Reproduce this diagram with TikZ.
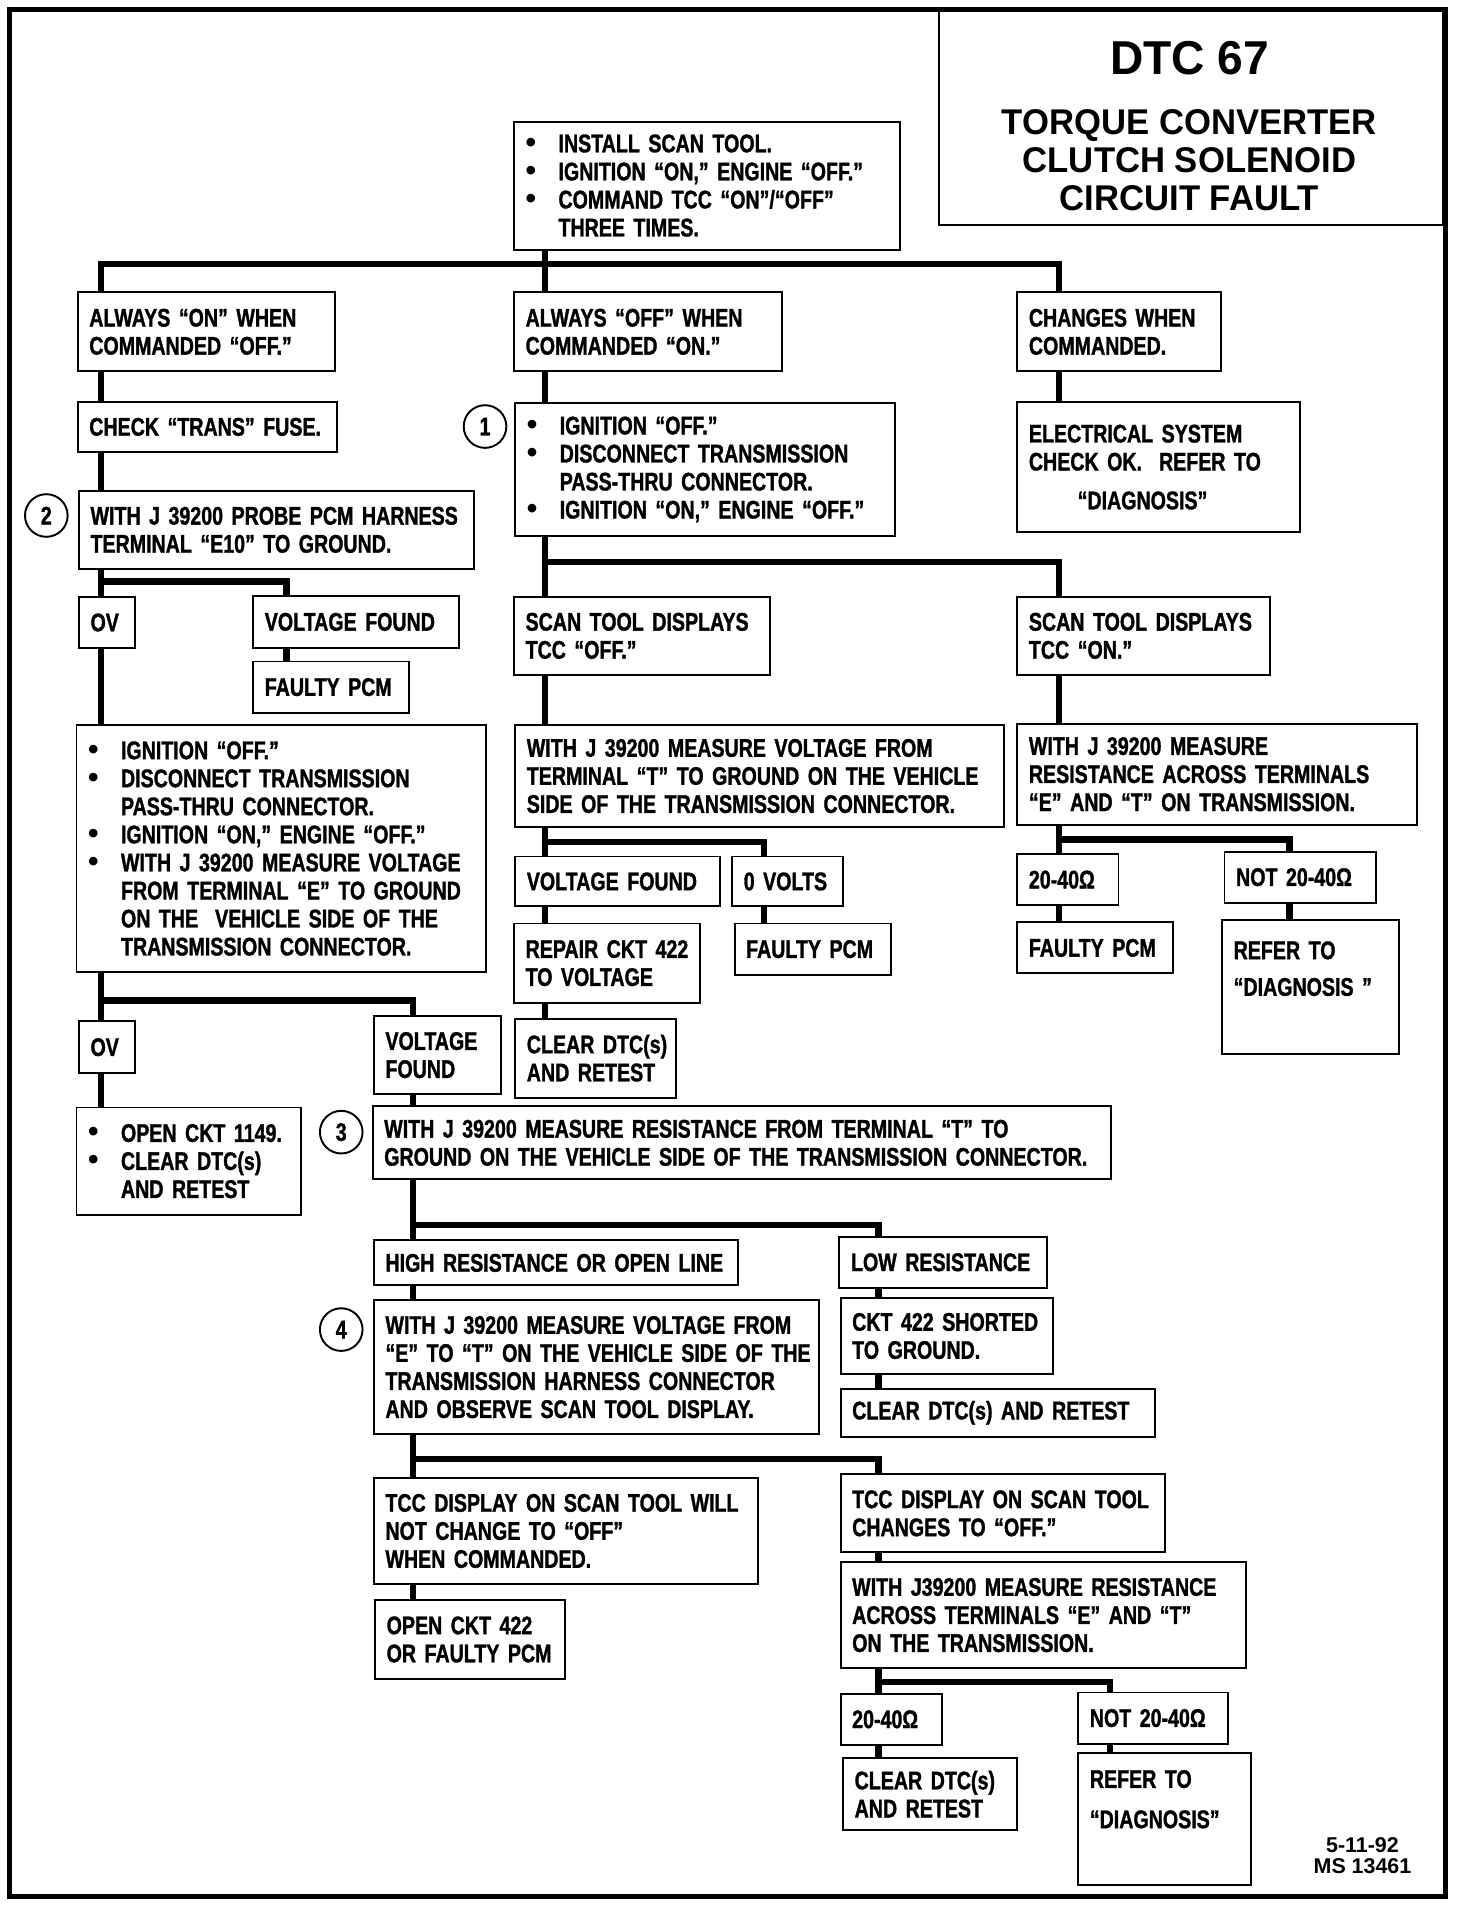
\documentclass[tikz,border=0pt]{standalone}
\usepackage{fontspec}
\usepackage{tikz}
\newfontfamily\bodyfont{Liberation Sans}[Ligatures=TeX,FakeStretch=0.77,FakeBold=1.2]
\newfontfamily\headfont{Liberation Sans}[Ligatures=TeX,FakeStretch=0.97]
\newfontfamily\plainfont{Liberation Sans}[Ligatures=TeX]
\newcommand{\bodytext}{\bodyfont\bfseries\fontsize{11.9}{13.1}\selectfont}
\newcommand{\bul}{\makebox[0.54cm][l]{\plainfont\bfseries\fontsize{14}{13}\selectfont •}}
\newcommand{\ind}{\hspace*{0.54cm}}

\begin{document}
\begin{tikzpicture}[x=0.02cm,y=-0.02cm,
    box/.style 2 args={draw,line width=0.9pt,anchor=north west,inner xsep=0pt,inner ysep=0pt,
      align=left,text width=#1,minimum height=#2,font=\bodytext,
      execute at begin node={\leftskip=0.19cm\rightskip=0pt plus 1fil minus 0.5cm\hyphenpenalty=10000}},
    num/.style={draw,circle,line width=0.9pt,minimum size=0.7cm,inner sep=0pt,font=\bodytext},
    link/.style={line width=3pt}]
  \useasboundingbox (0,0) rectangle (1208,1564);

  \node[draw,line width=0.9pt,anchor=north west,minimum width=8.26cm,minimum height=3.54cm,inner sep=0pt] (title) at (770,7) {};
  \node[font=\headfont\bfseries\fontsize{22.2}{24}\selectfont] (dtc) at (976,48) {DTC 67};
  \node[align=center,font=\headfont\bfseries\fontsize{16.7}{17.9}\selectfont] (name) at (976,131.5)
    {TORQUE CONVERTER\\CLUTCH SOLENOID\\CIRCUIT FAULT};

  \node[box={6.34cm}{2.10cm}] (start) at (421,99)
    {\bul INSTALL SCAN TOOL.\\ \bul IGNITION ``ON,'' ENGINE ``OFF.''\\ \bul COMMAND TCC ``ON''/``OFF''\\ \ind THREE TIMES.};
  \node[box={4.22cm}{1.30cm}] (on) at (63,239) {ALWAYS ``ON'' WHEN\\COMMANDED ``OFF.''};
  \node[box={4.40cm}{1.30cm}] (off) at (421,239) {ALWAYS ``OFF'' WHEN\\COMMANDED ``ON.''};
  \node[box={3.34cm}{1.30cm}] (chg) at (834,239) {CHANGES WHEN\\COMMANDED.};

  \node[box={4.26cm}{0.82cm}] (fuse) at (63,329) {CHECK ``TRANS'' FUSE.};
  \node[box={6.48cm}{1.28cm}] (probe) at (64,402) {WITH J 39200 PROBE PCM HARNESS\\TERMINAL ``E10'' TO GROUND.};
  \node[box={0.92cm}{0.84cm}] (ov1) at (64,489) {OV};
  \node[box={3.38cm}{0.86cm}] (vf1) at (207,488) {VOLTAGE FOUND};
  \node[box={2.56cm}{0.84cm}] (pcm1) at (207,542) {FAULTY PCM};
  \node[box={6.72cm}{4.06cm}] (ign2) at (62,594)
    {\bul IGNITION ``OFF.''\\ \bul DISCONNECT TRANSMISSION\\ \ind PASS-THRU CONNECTOR.\\
     \bul IGNITION ``ON,'' ENGINE ``OFF.''\\ \bul WITH J 39200 MEASURE VOLTAGE\\
     \ind FROM TERMINAL ``E'' TO GROUND\\ \ind ON THE\ \ VEHICLE SIDE OF THE\\ \ind TRANSMISSION CONNECTOR.};
  \node[box={0.92cm}{0.86cm}] (ov2) at (64,837) {OV};
  \node[box={2.08cm}{1.28cm}] (vf2) at (306,833) {VOLTAGE\\FOUND};
  \node[box={3.68cm}{1.76cm}] (cut) at (62,908) {\bul OPEN CKT 1149.\\ \bul CLEAR DTC(s)\\ \ind AND RETEST};

  \node[box={12.12cm}{1.20cm}] (res) at (305,907)
    {WITH J 39200 MEASURE RESISTANCE FROM TERMINAL ``T'' TO\\GROUND ON THE VEHICLE SIDE OF THE TRANSMISSION CONNECTOR.};
  \node[box={5.98cm}{0.74cm}] (high) at (306,1017) {HIGH RESISTANCE OR OPEN LINE};
  \node[box={3.40cm}{0.84cm}] (low) at (688,1014) {LOW RESISTANCE};
  \node[box={3.48cm}{1.26cm}] (short) at (689,1064) {CKT 422 SHORTED\\TO GROUND.};
  \node[box={5.16cm}{0.78cm}] (clr3) at (689,1139) {CLEAR DTC(s) AND RETEST};
  \node[box={7.30cm}{2.20cm}] (volt4) at (306,1066)
    {WITH J 39200 MEASURE VOLTAGE FROM\\``E'' TO ``T'' ON THE VEHICLE SIDE OF THE\\TRANSMISSION HARNESS CONNECTOR\\AND OBSERVE SCAN TOOL DISPLAY.};
  \node[box={6.30cm}{1.74cm}] (nochg) at (306,1212) {TCC DISPLAY ON SCAN TOOL WILL\\NOT CHANGE TO ``OFF''\\WHEN COMMANDED.};
  \node[box={3.12cm}{1.30cm}] (open) at (307,1312) {OPEN CKT 422\\OR FAULTY PCM};
  \node[box={5.32cm}{1.28cm}] (chgoff) at (689,1209) {TCC DISPLAY ON SCAN TOOL\\CHANGES TO ``OFF.''};
  \node[box={6.66cm}{1.74cm}] (res2) at (689,1281) {WITH J39200 MEASURE RESISTANCE\\ACROSS TERMINALS ``E'' AND ``T''\\ON THE TRANSMISSION.};
  \node[box={1.66cm}{0.84cm}] (ok2) at (689,1389) {20-40Ω};
  \node[box={2.46cm}{0.84cm}] (bad2) at (884,1388) {NOT 20-40Ω};
  \node[box={2.86cm}{1.18cm}] (clr4) at (691,1442) {CLEAR DTC(s)\\AND RETEST};
  \node[box={2.84cm}{2.16cm}] (diag3) at (884,1438) {REFER TO\\[5.7pt]``DIAGNOSIS''\\[5.7pt]\mbox{}};

  \node[box={6.24cm}{2.18cm}] (ign1) at (422,330)
    {\bul IGNITION ``OFF.''\\ \bul DISCONNECT TRANSMISSION\\ \ind PASS-THRU CONNECTOR.\\ \bul IGNITION ``ON,'' ENGINE ``OFF.''};
  \node[box={4.64cm}{2.14cm}] (elec) at (834,329) {ELECTRICAL SYSTEM\\CHECK OK.\ \ REFER TO\\[5pt]\hspace*{0.8cm}``DIAGNOSIS''};
  \node[box={4.20cm}{1.28cm}] (dispoff) at (421,489) {SCAN TOOL DISPLAYS\\TCC ``OFF.''};
  \node[box={4.14cm}{1.28cm}] (dispon) at (834,489) {SCAN TOOL DISPLAYS\\TCC ``ON.''};
  \node[box={8.02cm}{1.68cm}] (voltT) at (422,594)
    {WITH J 39200 MEASURE VOLTAGE FROM\\TERMINAL ``T'' TO GROUND ON THE VEHICLE\\SIDE OF THE TRANSMISSION CONNECTOR.};
  \node[box={6.56cm}{1.66cm}] (resET) at (834,593)
    {WITH J 39200 MEASURE\\RESISTANCE ACROSS TERMINALS\\``E'' AND ``T'' ON TRANSMISSION.};
  \node[box={3.36cm}{0.82cm}] (vf3) at (422,702) {VOLTAGE FOUND};
  \node[box={1.82cm}{0.82cm}] (zero) at (600,702) {0 VOLTS};
  \node[box={3.06cm}{1.30cm}] (repair) at (421,757) {REPAIR CKT 422\\TO VOLTAGE};
  \node[box={2.56cm}{0.84cm}] (pcm2) at (602,757) {FAULTY PCM};
  \node[box={2.64cm}{1.30cm}] (clr2) at (422,835) {CLEAR DTC(s)\\AND RETEST};
  \node[box={1.66cm}{0.84cm}] (ok1) at (834,700) {20-40Ω};
  \node[box={2.48cm}{0.84cm}] (bad1) at (1004,698) {NOT 20-40Ω};
  \node[box={2.56cm}{0.84cm}] (pcm3) at (834,756) {FAULTY PCM};
  \node[box={2.90cm}{2.20cm}] (diag2) at (1002,754) {REFER TO\\[4pt]``DIAGNOSIS~''\\[4pt]\mbox{}};

  \node[num] (n1) at (398,350) {1};
  \node[num] (n2) at (38,423) {2};
  \node[num] (n3) at (280,929) {3};
  \node[num] (n4) at (280,1091) {4};

  \node[align=center,font=\plainfont\bfseries\fontsize{10}{9.7}\selectfont] (date) at (1118,1522.5) {5-11-92\\MS 13461};

  \coordinate (cL) at (83,0);
  \coordinate (cM) at (447,0);
  \coordinate (cR) at (869,0);
  \coordinate (b1) at (869,216.5);
  \coordinate (b2) at (869,461);
  \coordinate (b3) at (235,477);
  \coordinate (b4) at (339,821);
  \coordinate (b5) at (627,691);
  \coordinate (b6) at (1058,689);
  \coordinate (b7) at (721,1005);
  \coordinate (b8) at (721,1197);
  \coordinate (b9) at (911,1380);

  \draw[link] (start.south -| cM) -- (off.north -| cM);
  \draw[link] (on.north -| cL) |- (b1) -- (chg.north -| b1);

  \draw[link] (on.south -| cL) -- (fuse.north -| cL);
  \draw[link] (fuse.south -| cL) -- (probe.north -| cL);
  \draw[link] (probe.south -| cL) -- (ov1.north -| cL);
  \draw[link] (ov1.north -| cL) |- (b3) -- (vf1.north -| b3);
  \draw[link] (vf1.south -| b3) -- (pcm1.north -| b3);
  \draw[link] (ov1.south -| cL) -- (ign2.north -| cL);
  \draw[link] (ign2.south -| cL) -- (ov2.north -| cL);
  \draw[link] (ov2.north -| cL) |- (b4) -- (vf2.north -| b4);
  \draw[link] (ov2.south -| cL) -- (cut.north -| cL);
  \draw[link] (vf2.south -| b4) -- (res.north -| b4);
  \draw[link] (res.south -| b4) -- (high.north -| b4);
  \draw[link] (high.north -| b4) |- (b7) -- (low.north -| b7);
  \draw[link] (low.south -| b7) -- (short.north -| b7);
  \draw[link] (short.south -| b7) -- (clr3.north -| b7);
  \draw[link] (high.south -| b4) -- (volt4.north -| b4);
  \draw[link] (volt4.south -| b4) -- (nochg.north -| b4);
  \draw[link] (nochg.north -| b4) |- (b8) -- (chgoff.north -| b8);
  \draw[link] (nochg.south -| b4) -- (open.north -| b4);
  \draw[link] (chgoff.south -| b8) -- (res2.north -| b8);
  \draw[link] (res2.south -| b8) -- (ok2.north -| b8);
  \draw[link] (ok2.north -| b8) |- (b9) -- (bad2.north -| b9);
  \draw[link] (ok2.south -| b8) -- (clr4.north -| b8);
  \draw[link] (bad2.south -| b9) -- (diag3.north -| b9);

  \draw[link] (off.south -| cM) -- (ign1.north -| cM);
  \draw[link] (ign1.south -| cM) -- (dispoff.north -| cM);
  \draw[link] (dispoff.north -| cM) |- (b2) -- (dispon.north -| b2);
  \draw[link] (dispoff.south -| cM) -- (voltT.north -| cM);
  \draw[link] (voltT.south -| cM) -- (vf3.north -| cM);
  \draw[link] (vf3.north -| cM) |- (b5) -- (zero.north -| b5);
  \draw[link] (vf3.south -| cM) -- (repair.north -| cM);
  \draw[link] (repair.south -| cM) -- (clr2.north -| cM);
  \draw[link] (zero.south -| b5) -- (pcm2.north -| b5);

  \draw[link] (chg.south -| cR) -- (elec.north -| cR);
  \draw[link] (dispon.south -| cR) -- (resET.north -| cR);
  \draw[link] (resET.south -| cR) -- (ok1.north -| cR);
  \draw[link] (ok1.north -| cR) |- (b6) -- (bad1.north -| b6);
  \draw[link] (ok1.south -| cR) -- (pcm3.north -| cR);
  \draw[link] (bad1.south -| b6) -- (diag2.north -| b6);

  \draw[line width=2.5pt] (8,8) rectangle (1186,1556);
\end{tikzpicture}
\end{document}
